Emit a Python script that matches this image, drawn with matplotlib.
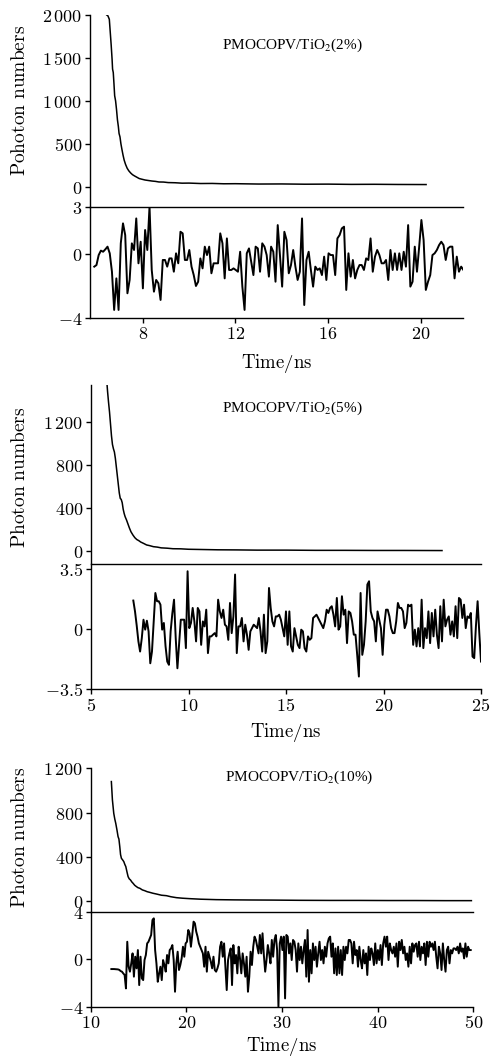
import numpy as np
import matplotlib
matplotlib.use('Agg')
import matplotlib.pyplot as plt
from matplotlib.ticker import FixedLocator, FuncFormatter

plt.rcParams['mathtext.fontset'] = 'cm'
plt.rcParams['font.family'] = ['DejaVu Serif']

# ---------------- data: panel 1 (2%) ----------------
decay1_t = [6.45, 6.50, 6.56, 6.60, 6.64, 6.68, 6.70, 6.73, 6.76, 6.79, 6.83, 6.87, 6.91,
            6.95, 6.98, 7.02, 7.06, 7.10, 7.15, 7.20, 7.26, 7.33, 7.40, 7.48, 7.56, 7.65,
            7.75, 7.85, 7.95, 8.10, 8.25, 8.40, 8.55, 8.70, 8.90, 9.10, 9.40, 9.70, 10.0,
            10.5, 11.0, 11.5, 12.0, 13.0, 14.0, 15.0, 16.0, 17.0, 18.0, 19.0, 20.23]
decay1_v = [2000, 1990, 1950, 1800, 1650, 1480, 1370, 1330, 1200, 1060, 1000, 900, 780,
            700, 620, 580, 500, 440, 370, 310, 260, 215, 185, 160, 140, 125,
            110, 95, 88, 78, 72, 66, 62, 55, 54, 48, 46, 41, 42,
            37, 38, 34, 35, 31, 32, 29, 30, 27, 28, 26, 25]
resid1_t0, resid1_t1 = 5.91, 21.84
resid1 = [-0.78, -0.68, -0.05, 0.23, 0.16, 0.31, 0.48, 0.06, -1.10, -3.51, -1.52, -3.51,
          0.69, 1.95, 1.21, -2.46, -1.62, 0.69, 0.27, 2.26, -0.57, 0.79, -2.15, 1.53,
          0.27, 3.0, -0.99, -2.36, -1.62, -1.83, -2.88, -0.36, -0.36, -0.78, -0.26,
          -0.26, -1.10, 0.06, -0.57, 1.42, 1.32, -0.36, -0.36, 0.27, -0.78, -1.31,
          -2.0, -1.73, -0.26, -0.89, 0.48, -0.05, 0.48, -1.20, -0.57, -0.57, -0.57,
          1.32, 0.69, -1.52, 1.0, -0.99, -0.99, -0.89, -0.99, -1.10, 0.16, -2.04,
          -3.51, 0.06, 0.37, -0.47, -1.31, 0.48, 0.37, -1.10, 0.69, 0.48, -0.05,
          -1.41, 0.48, 0.16, -1.73, 1.84, -0.05, -2.04, 1.42, 0.90, -1.20, -0.68,
          0.27, -0.78, -1.62, -1.10, 2.26, -3.20, -0.36, 0.16, -0.99, -2.04, -0.78,
          -0.99, -0.89, -1.31, -0.15, -1.62, 0.06, -0.05, -0.05, -1.31, 1.0, 1.21,
          1.63, 1.74, -2.25, 0.06, -1.41, -0.36, -1.52, -0.99, -0.68, -0.68, -0.99,
          -0.26, -0.36, 1.0, -1.10, -0.15, 0.27, -0.05, -0.57, -0.57, -0.36, -1.62,
          0.27, -0.99, 0.06, -0.99, 0.06, -0.99, 0.16, -0.78, 1.84, -2.04, -1.73,
          0.48, -1.10, 0.48, 2.16, 0.90, -2.25, -1.73, -1.31, -0.05, 0.06, 0.27,
          0.58, 0.79, 0.58, -0.36, 0.37, 0.48, 0.48, -1.52, -0.15, -1.10, -0.78, -0.99]

# ---------------- data: panel 2 (5%) ----------------
decay2_t = [5.80, 5.85, 5.90, 5.95, 6.00, 6.05, 6.10, 6.15, 6.20, 6.25, 6.30, 6.35, 6.40,
            6.45, 6.50, 6.55, 6.60, 6.65, 6.70, 6.75, 6.82, 6.90, 6.97, 7.05, 7.15, 7.25,
            7.35, 7.45, 7.55, 7.70, 7.85, 8.00, 8.20, 8.40, 8.60, 8.90, 9.20, 9.60, 10.0,
            10.6, 11.5, 12.5, 13.5, 15.0, 16.5, 18.0, 19.5, 21.0, 23.0]
decay2_v = [1600, 1480, 1380, 1290, 1180, 1070, 990, 950, 920, 860, 780, 700, 620,
            540, 490, 480, 450, 390, 350, 320, 290, 250, 215, 180, 150, 125,
            108, 98, 85, 72, 58, 52, 42, 38, 31, 28, 23, 22, 18,
            16, 13, 12, 10, 10, 8, 8, 7, 7, 6]
resid2_t0, resid2_t1 = 7.17, 25.0
resid2 = [1.65, 1.02, 0.2, -0.72, -1.31, -0.53, 0.54, -0.04, 0.48, -0.14, -1.99, -1.31,
          0.4, 2.09, 1.61, 1.61, 1.41, -0.04, 0.35, -1.0, -1.89, -2.08, -0.14, 0.9, 1.70,
          -0.53, -2.28, -0.9, 0.54, 0.54, 0.54, -1.11, 3.35, 0.05, 0.35, 1.22, 0.44, -0.72,
          1.22, 1.02, -0.92,
          0.44, 0.15, 1.12, -1.40, -0.43, -0.43, -0.33, -0.24, -0.43, 1.70, 1.02, 0.64,
          1.12, 0.25, 0.15, -0.63, 1.51, -0.24, 0.73, 3.16, -1.40, 0.15, 0.15, 0.64,
          -0.72, 0.25, -0.33, -1.21, -0.14, 0.05, 0.25, 0.15, 0.05, 0.64, -0.14, -1.31,
          0.83, -1.40, -0.72, 2.38, 1.22, 0.44, 0.15, 0.73, 0.73, 0.83, 0.54, 0.05,
          -0.43, 1.02, -0.92, 1.02, -1.01, -1.31, 0.05, -0.43, -0.92, -1.11, -0.04,
          -0.14, -1.11, -1.31, -0.43, -0.63, -0.53, 0.64, 0.73, 0.83, 0.64, 0.44, 0.25,
          0.05, 0.44, 1.12, 0.93, 1.22, 1.32, 0.83, 0.15, 1.80, -0.04, 0.15, 1.90, 0.83,
          1.12, -0.82, 1.02, 0.93, 0.44, -0.33, -0.33, -1.50, -2.76, 2.09, -1.50, -0.92,
          0.44, 2.58, 2.77, 1.02, 0.64, 0.44, -0.72, 1.02, 0.54, 0.05, -1.50, 0.25,
          1.12, 1.12, 0.73, 0.05, -0.24, -0.24, 0.44, 1.51, 1.22, 1.22, 1.02, 0.05,
          0.35, 1.41, 1.32, 1.41, -0.92, -0.04, -1.01, 0.05, -1.01, 1.70, -1.11, 0.05,
          -0.53, 1.02, -0.82, 0.93, -0.43, 1.12, -0.33, -1.11, 1.32, -0.72, 1.70, 0.15,
          0.54, 0.73, -0.33, 0.44, -0.43, 1.32, -0.53, 1.80, 1.70, 0.64, 1.41, 0.05,
          0.73, 0.64, 0.93, -1.60, -1.69, 0.15, 1.61, -0.24, -1.89]

# ---------------- data: panel 3 (10%) ----------------
decay3_t = [12.16, 12.27, 12.41, 12.52, 12.62, 12.75, 12.86, 12.95, 13.04, 13.12, 13.21,
            13.35, 13.46, 13.57, 13.67, 13.80, 13.91, 14.03, 14.16, 14.30, 14.43, 14.60,
            14.78, 14.95, 15.13, 15.40, 15.65, 15.90, 16.17, 16.50, 16.87, 17.40, 17.91,
            18.40, 18.96, 19.60, 20.35, 21.50, 23.14, 25.0, 26.6, 29.0, 31.8, 35.0,
            38.0, 41.0, 44.0, 47.0, 49.8]
decay3_v = [1080, 914, 793, 740, 702, 640, 582, 560, 491, 420, 386,
            370, 356, 330, 311, 260, 220, 200, 190, 172, 160, 142,
            130, 120, 115, 100, 93, 84, 78, 70, 63, 52, 48,
            38, 30, 25, 21, 16, 12, 10, 9, 8, 6, 5,
            5, 4, 4, 3, 3]
resid3_t0, resid3_t1 = 12.16, 49.73
resid3 = [-0.83, -0.83, -0.83, -0.84, -0.85, -0.86, -0.90, -1.0, -1.05, -1.2, -1.33, -2.46,
          1.47, -0.63, -1.05, -0.35, 0.49, -1.47,
          0.21, -0.77, 0.77, -2.18, 0.21, -1.61, -1.76, -0.07, 0.35, 1.33, 1.47, 1.76,
          2.04, 3.30, 3.44, 0.77, -0.35, -1.90, -1.19, -0.63, -1.76, -0.07, -0.49, -1.05,
          0.35, -0.35, 0.77, 0.91, 1.19, -0.07, -2.74, -0.35, 0.63, -0.91, -0.49, 0.07,
          1.05, 0.21, 1.33, 1.47, 2.46, 2.18, 1.05, 2.04, 3.16, 3.02, 2.32, 1.90, 1.33,
          1.05, 0.77, 0.49, -0.63, 1.05, -1.05, 0.63, 0.21, -0.21, -0.77, 0.21, -0.91,
          -1.05, -0.77, -0.35, 1.05, 1.47, 0.21, 1.33, -0.63, -2.60, -0.07, 0.49, 0.91,
          -2.18, 1.19, -0.35, 0.35, -1.19, 1.05, 0.07, -1.19, 0.49, -0.35, -1.47, 0.21,
          -2.74, -1.47, 0.63, -0.49, 1.05, 1.90, 1.62, 1.05, 0.49, 2.04, 0.49, 2.18, 0.35,
          -1.05, -0.07, 1.19, 0.49, -0.35, 1.62, 0.21, 1.62, 2.04, 0.77, -4.0, 1.33, 1.90,
          0.77, 1.90, -3.30, 2.04, 1.90, 0.49, 1.33, -0.07, 1.62, 1.47,
          0.77, -1.05, 1.33, -0.07, 1.05, -0.35, 0.77, 1.62, -1.47, 2.46, -1.90, 0.77,
          -1.19, 1.33, -0.07, 1.05, -0.63, 0.49, 1.47, -0.07, 0.77, -0.35, 1.05, 0.21,
          1.33, 1.76, 1.90, 0.21, 1.33, -1.19, 0.91, -1.33, 1.05, -1.19, 0.77, -1.33,
          1.05, -0.07, 1.05, 0.49, 1.62, 1.62, 1.33, -0.35, 1.47, 0.35, 0.77, -0.63,
          1.05, -0.07, -0.77, 0.77, -0.35, 0.49, -1.33, 1.05, -0.07, 0.91, 0.49, -0.49,
          1.33, -0.35, 0.77, -0.07, 1.19, -0.49, 1.33, 1.90, 1.05, 1.90, -0.07, 1.33,
          0.77, 0.49, 1.05, 0.21, 1.33, -0.63, 1.47, 0.77, 1.62, 0.49, 1.05, -0.07,
          0.49, -0.63, 1.05, -0.35, 1.33, 0.63, 1.19, 1.33, 0.21, 1.47, -0.07, 1.05,
          0.49, 1.33, -0.49, 1.47, 0.21, 1.47, 1.05, 1.33, 0.77, 1.47, 0.21, -0.77,
          1.05, 0.49, -0.91, 1.33, -0.07, -1.05, 0.77, 1.05, -0.35, 0.77, 0.49, 0.91,
          0.91, 0.77, 1.05, 0.49, 1.33, 0.63, 0.91, 0.07, 1.33, 0.21, 1.05, 0.77, 0.77]

labels = ['PMOCOPV/TiO$_2$(2%)', 'PMOCOPV/TiO$_2$(5%)', 'PMOCOPV/TiO$_2$(10%)']
ylabels = ['Pohoton numbers', 'Photon numbers', 'Photon numbers']
xlabel = 'Time/ns'
decay_yticks = [[0, 500, 1000, 1500, 2000], [0, 400, 800, 1200], [0, 400, 800, 1200]]
resid_yticks = [[-4, 0, 3], [-3.5, 0, 3.5], [-4, 0, 4]]
xticks = [[8, 12, 16, 20], [5, 10, 15, 20, 25], [10, 20, 30, 40, 50]]

# ---------------- layout ----------------
W, H = 493, 1059
fig = plt.figure(figsize=(W / 100, H / 100), dpi=100)


def add_ax(l, r, t, b):
    return fig.add_axes([l / W, 1 - b / H, (r - l) / W, (b - t) / H])


def fmt(v, pos=None):
    if float(v).is_integer():
        v = int(v)
        s = f'{abs(v):,}'.replace(',', r'\,')
        s = ('-' if v < 0 else '') + s
    else:
        s = f'{v:g}'
    return '$' + s + '$'


panels = [
    dict(box=(90, 462.7, 15, 206.7, 317.7), xlim=(5.726, 21.81), dylim=(-233, 2000),
         rylim=(-4, 3), dt=decay1_t, dv=decay1_v, r=resid1, rt=(resid1_t0, resid1_t1),
         ylab_y=100, xlab_y=364, ann=(292, 45)),
    dict(box=(91, 481, 385, 563.5, 689.3), xlim=(5, 25), dylim=(-114, 1541),
         rylim=(-3.5, 3.8), dt=decay2_t, dv=decay2_v, r=resid2, rt=(resid2_t0, resid2_t1),
         ylab_y=477, xlab_y=733, ann=(292, 408)),
    dict(box=(90.7, 473.3, 768.3, 911.7, 1006.7), xlim=(10, 50), dylim=(-97, 1200),
         rylim=(-4, 4), dt=decay3_t, dv=decay3_v, r=resid3, rt=(resid3_t0, resid3_t1),
         ylab_y=837, xlab_y=1047, ann=(299, 777)),
]

tick_fs = 13
for i, p in enumerate(panels):
    l, r, t, m, b = p['box']
    axd = add_ax(l, r, t, m)
    axr = add_ax(l, r, m, b)

    # decay
    axd.plot(p['dt'], p['dv'], color='black', lw=1.1)
    axd.set_xlim(*p['xlim'])
    axd.set_ylim(*p['dylim'])
    for s in ['top', 'right', 'bottom']:
        axd.spines[s].set_visible(False)
    axd.spines['left'].set_linewidth(1.0)
    axd.set_xticks([])
    axd.yaxis.set_major_locator(FixedLocator(decay_yticks[i]))
    axd.yaxis.set_major_formatter(FuncFormatter(fmt))
    axd.tick_params(axis='y', direction='out', length=3.5, width=1.0, labelsize=tick_fs, pad=2)
    axd.patch.set_alpha(0)

    # residual
    rv = p['r']
    rtt = np.linspace(p['rt'][0], p['rt'][1], len(rv))
    axr.plot(rtt, rv, color='black', lw=1.4)
    axr.set_xlim(*p['xlim'])
    axr.set_ylim(*p['rylim'])
    axr.spines['right'].set_visible(False)
    for s in ['top', 'left', 'bottom']:
        axr.spines[s].set_linewidth(1.0)
    axr.yaxis.set_major_locator(FixedLocator(resid_yticks[i]))
    axr.yaxis.set_major_formatter(FuncFormatter(fmt))
    axr.xaxis.set_major_locator(FixedLocator(xticks[i]))
    axr.xaxis.set_major_formatter(FuncFormatter(fmt))
    axr.tick_params(axis='both', direction='out', length=3.5, width=1.0, labelsize=tick_fs, pad=2)
    axr.patch.set_alpha(0)

    # texts
    fig.text(20 / W, 1 - p['ylab_y'] / H, r'$\mathrm{' + ylabels[i].replace(' ', r'\ ') + '}$',
             rotation=90, ha='center', va='center', fontsize=14)
    fig.text(((l + r) / 2) / W, 1 - p['xlab_y'] / H, r'$\mathrm{' + xlabel + '}$',
             ha='center', va='center', fontsize=13.5)
    fig.text(p['ann'][0] / W, 1 - p['ann'][1] / H, labels[i], ha='center', va='center',
             fontsize=11, family=['Liberation Serif', 'DejaVu Serif'], math_fontfamily='stix')

fig.savefig('out.png', dpi=100)
